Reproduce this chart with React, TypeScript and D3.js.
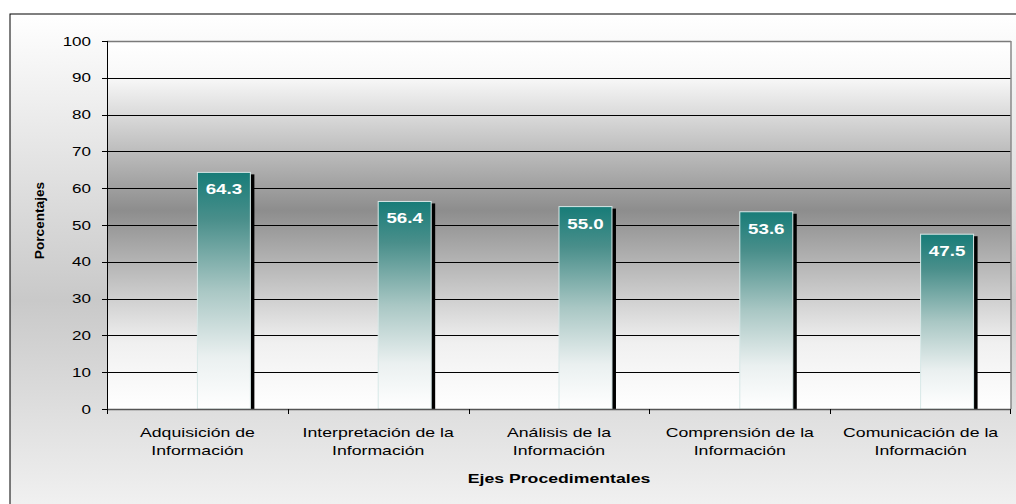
import React from "react";
import * as d3 from "d3";

const categories: string[][] = [
  ["Adquisición de", "Información"],
  ["Interpretación de la", "Información"],
  ["Análisis de la", "Información"],
  ["Comprensión de la", "Información"],
  ["Comunicación de la", "Información"],
];
const values: number[] = [64.3, 56.4, 55.0, 53.6, 47.5];
const yTicks: number[] = [0, 10, 20, 30, 40, 50, 60, 70, 80, 90, 100];
const yTitle = "Porcentajes";
const xTitle = "Ejes Procedimentales";

const W = 1016;
const H = 504;
const plot = { left: 107, right: 1011, top: 41, bottom: 409 };
const FONT = "'Liberation Sans', Arial, sans-serif";
const SX = 1.36;

export default function App() {
  const x = d3
    .scaleBand<number>()
    .domain(categories.map((_, i) => i))
    .range([plot.left, plot.right])
    .padding(0);
  const y = d3.scaleLinear().domain([0, 100]).range([plot.bottom, plot.top]);
  const bw = x.bandwidth() * 0.293;

  return (
    <svg
      width={W}
      height={H}
      style={{ position: "absolute", left: 0, top: 0, display: "block" }}
    >
      <defs>
        <linearGradient id="outerGrad" x1="0" y1="0" x2="0" y2="1">
          <stop offset="0" stopColor="#ffffff" />
          <stop offset="0.55" stopColor="#c9c9c9" />
          <stop offset="1" stopColor="#f6f6f6" />
        </linearGradient>
        <linearGradient id="plotGrad" x1="0" y1="0" x2="0" y2="1">
          <stop offset="0" stopColor="#ffffff" />
          <stop offset="0.1" stopColor="#f8f8f8" />
          <stop offset="0.46" stopColor="#8d8d8d" />
          <stop offset="0.82" stopColor="#f0f0f0" />
          <stop offset="1" stopColor="#ffffff" />
        </linearGradient>
        <linearGradient id="barGrad" x1="0" y1="0" x2="0" y2="1">
          <stop offset="0" stopColor="#177c78" />
          <stop offset="0.2" stopColor="#4a8f8b" />
          <stop offset="0.5" stopColor="#a9c7c4" />
          <stop offset="0.78" stopColor="#eaf0f0" />
          <stop offset="1" stopColor="#ffffff" />
        </linearGradient>
      </defs>

      {/* outer chart frame */}
      <rect x={10} y={14} width={1030} height={520} fill="url(#outerGrad)" stroke="#000" strokeWidth={1} />

      {/* plot area */}
      <rect
        x={plot.left}
        y={plot.top}
        width={plot.right - plot.left}
        height={plot.bottom - plot.top}
        fill="url(#plotGrad)"
      />

      {/* gridlines */}
      {yTicks
        .filter((t) => t > 0 && t < 100)
        .map((t) => (
          <line
            key={"g" + t}
            x1={plot.left}
            x2={plot.right}
            y1={Math.round(y(t)) + 0.5}
            y2={Math.round(y(t)) + 0.5}
            stroke="#000"
            strokeWidth={1}
          />
        ))}
      {/* plot border top & right */}
      <line x1={plot.left} x2={plot.right} y1={plot.top + 0.5} y2={plot.top + 0.5} stroke="#7a7a7a" strokeWidth={1.5} />
      <line x1={plot.right} x2={plot.right} y1={plot.top} y2={plot.bottom} stroke="#8a8a8a" strokeWidth={1.5} />

      {/* bars */}
      {values.map((v, i) => {
        const bx = (x(i) as number) + x.bandwidth() / 2;
        const by = y(v);
        return (
          <g key={"b" + i}>
            <rect x={bx + 4} y={by + 2} width={bw} height={plot.bottom - by - 2} fill="#000" />
            <rect
              x={bx}
              y={by}
              width={bw}
              height={plot.bottom - by}
              fill="url(#barGrad)"
              stroke="#d8e8e7"
              strokeWidth={1}
            />
            <text
              transform={`translate(${bx + bw / 2},${by + 22}) scale(1.25,1)`}
              textAnchor="middle"
              fontFamily={FONT}
              fontWeight="bold"
              fontSize={15}
              fill="#ffffff"
            >
              {v.toFixed(1)}
            </text>
          </g>
        );
      })}

      {/* y axis */}
      <line x1={plot.left + 0.5} x2={plot.left + 0.5} y1={plot.top} y2={plot.bottom + 5} stroke="#000" strokeWidth={1} />
      {yTicks.map((t) => (
        <g key={"yt" + t}>
          <line
            x1={plot.left - 5}
            x2={plot.left}
            y1={Math.round(y(t)) + 0.5}
            y2={Math.round(y(t)) + 0.5}
            stroke="#000"
          />
          <text
            transform={`translate(${plot.left - 16},${y(t) + 4.5}) scale(${SX},1)`}
            textAnchor="end"
            fontFamily={FONT}
            fontSize={12.5}
            fill="#000"
          >
            {t}
          </text>
        </g>
      ))}

      {/* x axis */}
      <line x1={plot.left} x2={plot.right} y1={plot.bottom + 0.5} y2={plot.bottom + 0.5} stroke="#555" strokeWidth={1.5} />
      {categories.map((_, i) => (
        <line
          key={"xt" + i}
          x1={Math.round(x(i) as number) + 0.5}
          x2={Math.round(x(i) as number) + 0.5}
          y1={plot.bottom}
          y2={plot.bottom + 5}
          stroke="#000"
        />
      ))}
      <line x1={plot.right - 0.5} x2={plot.right - 0.5} y1={plot.bottom} y2={plot.bottom + 5} stroke="#000" />

      {categories.map((lines, i) => {
        const cx = (x(i) as number) + x.bandwidth() / 2;
        return lines.map((ln, j) => (
          <text
            key={"c" + i + "-" + j}
            transform={`translate(${cx},${437 + j * 18}) scale(${SX},1)`}
            textAnchor="middle"
            fontFamily={FONT}
            fontSize={13}
            fill="#000"
          >
            {ln}
          </text>
        ));
      })}

      {/* axis titles */}
      <text
        transform={`translate(${(plot.left + plot.right) / 2},${483}) scale(${SX},1)`}
        textAnchor="middle"
        fontFamily={FONT}
        fontSize={13}
        fontWeight="bold"
        fill="#000"
      >
        {xTitle}
      </text>
      <text
        transform={`translate(${43.5},${220.5}) rotate(-90) scale(1.05,1)`}
        textAnchor="middle"
        fontFamily={FONT}
        fontSize={13}
        fontWeight="bold"
        fill="#000"
      >
        {yTitle}
      </text>
    </svg>
  );
}
